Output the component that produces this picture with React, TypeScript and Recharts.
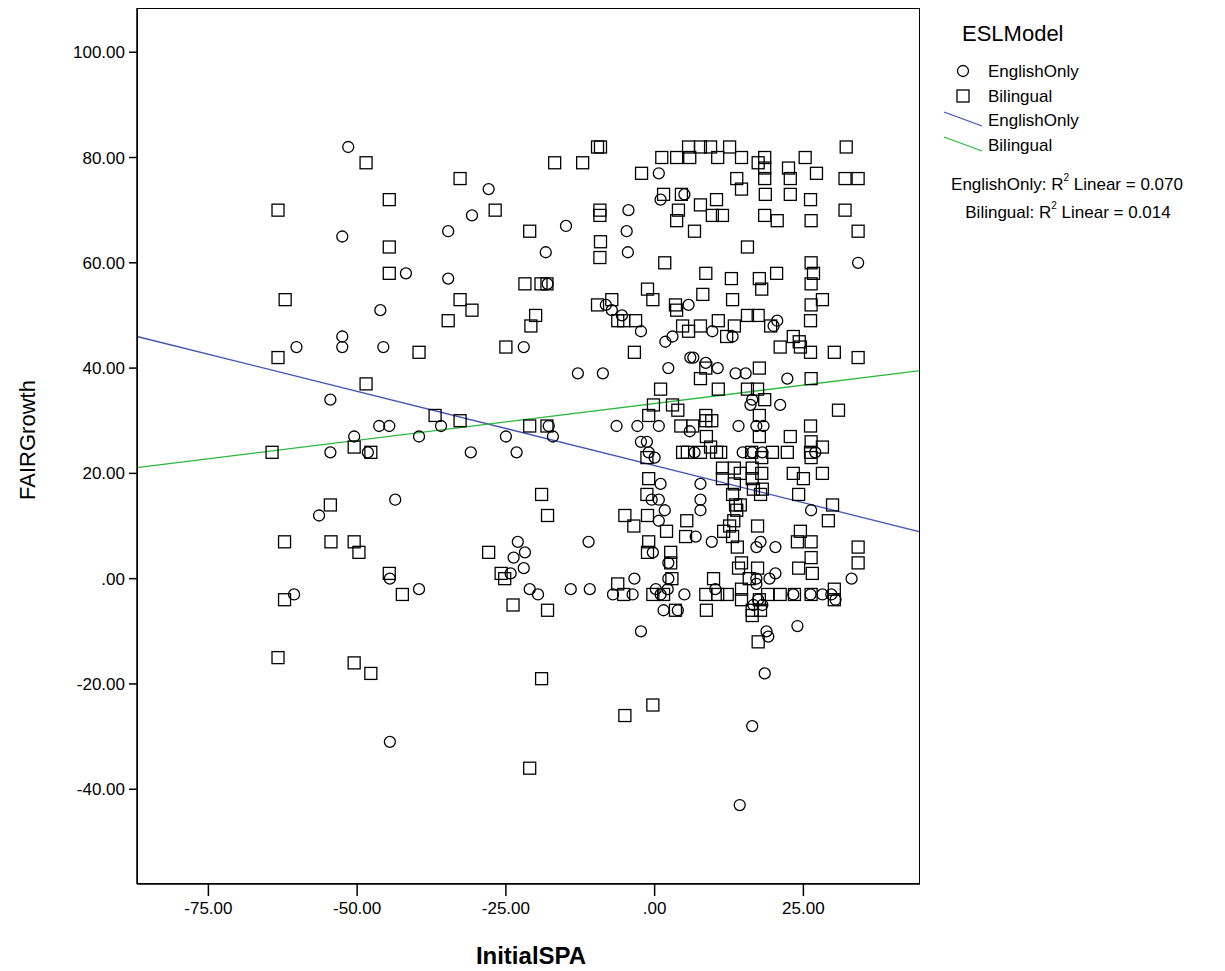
import { ScatterChart, Scatter, XAxis, YAxis, ReferenceLine } from 'recharts';

// [InitialSPA, FAIRGrowth]
const englishOnly: number[][] = [
  [-51.5,82],[-52.5,65],[-52.5,46],[-52.5,44],[-41.8,58],[-46.1,51],[-45.6,44],[-60.2,44],[-54.5,34],[-50.5,27],
  [-54.5,24],[-46.3,29],[-44.6,29],[-48.2,24],[-39.6,27],[-34.7,57],[-34.7,66],[-35.9,29],[-30.7,69],[-27.9,74],
  [-30.9,24],[-22,44],[-23.2,24],[-25,27],[-17.8,29],[-18.3,62],[-18,56],[-17.1,27],[-14.9,67],[-12.9,39],
  [-11.1,7],[-56.4,12],[-43.6,15],[-44.5,0],[-44.5,-31],[-39.6,-2],[-60.6,-3],[-23,7],[-21.8,5],[-23.7,4],
  [-22,2],[-24.2,1],[-21,-2],[-19.6,-3],[-14.1,-2],[-10.9,-2],[-8.7,39],[-4.7,66],[-4.5,62],[-8.2,52],
  [-7.2,51],[-6.4,29],[-5.5,50],[-4.4,70],[-2.3,47],[-2.9,29],[-2.3,26],[-1.3,26],[-1,24],[0,23],
  [0.7,29],[1,18],[0.7,11],[-0.5,15],[-3.4,0],[-3.7,-3],[-2.3,-10],[-7,-3],[1.7,13],[-0.3,5],
  [2.3,0],[2.3,3],[0.7,15],[2.2,-2],[1,-3],[1.5,-6],[3.9,-6],[0.2,-2],[1,72],[0.7,77],
  [1.8,45],[3,46],[5,73],[2.3,40],[5,-3],[5.7,52],[6,42],[6.5,42],[6.7,24],[6.9,8],
  [7.7,18],[7.7,15],[9.6,7],[10.6,40],[10.2,-2],[7.7,13],[8.6,41],[5.9,28],[9.7,47],[13.1,46],
  [13.6,39],[15.3,39],[16.1,33],[14.1,29],[16.4,24],[16.4,34],[17.1,29],[17.8,7],[17.1,0],[16.6,-5],
  [17.1,6],[17.1,-1],[17.4,-4],[18.1,-5],[18.8,-10],[19.1,-11],[18.5,-18],[16.4,-28],[19.3,0],[20.3,1],
  [20.6,49],[20,48],[18.3,29],[21.1,33],[22.3,38],[23.3,-3],[24,-9],[26.2,-3],[28.2,-3],[29.7,-3],
  [30.4,-4],[33.1,0],[34.2,60],[27,24],[26.3,13],[20.3,6],[18.1,24],[14.3,-43],[14.8,24],
];

const bilingual: number[][] = [
  [-63.3,70],[-62.1,53],[-63.3,42],[-64.3,24],[-62.2,7],[-62.2,-4],[-63.3,-15],[-48.5,79],[-44.6,72],[-44.6,63],
  [-44.6,58],[-32.7,76],[-26.8,70],[-21,66],[-32.7,53],[-34.7,49],[-30.7,51],[-39.6,43],[-48.5,37],[-36.9,31],
  [-32.7,30],[-25,44],[-21.8,56],[-20.8,48],[-20,50],[-19.1,56],[-18.1,56],[-21,29],[-18.1,29],[-18,12],
  [-19,16],[-54.5,14],[-54.4,7],[-50.5,7],[-49.7,5],[-47.7,24],[-50.5,25],[-44.6,1],[-42.4,-3],[-50.5,-16],
  [-47.7,-18],[-27.9,5],[-25.8,1],[-25.2,0],[-23.8,-5],[-18,-6],[-19,-19],[-21,-36],[-16.8,79],[-12.1,79],
  [-9.6,82],[-9.1,82],[-9.2,70],[-9.2,69],[-9.1,64],[-9.2,61],[-9.6,52],[-7.2,53],[-5.2,49],[-6.2,49],
  [-3.4,43],[-3.2,49],[-2.2,77],[-1.2,55],[-0.3,53],[3.5,52],[3.7,51],[4,70],[3.7,68],[4.7,48],
  [5.7,47],[4.5,73],[1.5,73],[1.2,80],[3.7,80],[5.9,80],[5.7,82],[7.7,82],[9.4,82],[10.6,80],
  [12.6,82],[14.6,80],[13.8,76],[14.6,74],[7.7,71],[6.7,66],[10.4,72],[9.7,69],[11.4,69],[15.6,63],
  [17.6,57],[20.5,58],[19.5,48],[21.1,44],[23.3,46],[24.3,45],[24.5,44],[26.2,43],[26.2,49],[26.3,60],
  [26.7,58],[26.3,56],[26.3,52],[28.2,53],[30.2,43],[34.2,42],[34.2,66],[32,76],[32,70],[27.2,77],
  [26.3,68],[26.2,72],[25.3,80],[22.8,73],[22.8,76],[20.6,68],[18.5,69],[17.4,79],[18.5,78],[18.5,76],
  [32.2,82],[34.2,76],[22.5,78],[18.6,73],[18.5,80],[13.1,53],[8.1,54],[7.7,48],[10.7,49],[12.1,46],
  [13.4,48],[15.6,50],[17.4,50],[18,55],[12.9,57],[8.6,58],[1.7,60],[8.6,40],[7.7,38],[8.6,31],
  [8.7,27],[10.7,36],[9.6,30],[8.6,30],[6.4,29],[4.7,24],[5.5,24],[7.7,24],[9.4,25],[10.4,24],
  [11.4,21],[15.6,36],[17.3,36],[17.6,40],[18.5,34],[17.6,31],[17.6,27],[16.3,24],[13.4,21],[11.1,24],
  [11.4,19],[13.1,16],[13.4,18],[14.4,14],[14.4,20],[13.6,14],[14.6,3],[13.9,6],[16.4,21],[16.4,19],
  [16.6,17],[17.8,16],[18,20],[18,23],[17.3,10],[18.1,17],[19.8,24],[22.3,24],[22.8,27],[23.3,20],
  [24.2,16],[25,19],[26.2,24],[26.3,26],[26.2,29],[26.3,38],[28.2,25],[28.2,20],[26.3,23],[29.2,11],
  [29.9,14],[30.9,32],[34.2,6],[34.2,3],[30.2,-2],[30.2,-4],[26.3,7],[24.5,9],[26.3,4],[24.2,2],
  [26.3,-3],[24,7],[26.5,1],[23.5,-3],[21.1,-3],[19,-3],[17.6,-4],[17.8,-6],[16.4,-6],[14.6,-2],
  [14.6,-4],[12.2,-3],[10.6,-3],[9.9,0],[8.7,-6],[8.6,-3],[11.6,9],[12.6,10],[13.8,13],[13.3,11],
  [13.1,8],[14.1,2],[15.9,0],[17.3,2],[5.2,8],[5.4,11],[2.7,5],[2.7,3],[2.9,0],[3.5,-6],
  [1.5,-3],[-0.3,-3],[2,9],[-1.2,12],[-1.3,16],[-1.3,23],[-1,31],[-0.2,33],[1,36],[3,33],
  [3.9,32],[4.4,29],[-1,19],[-1,7],[-1.2,5],[-6.2,-1],[-5.2,-3],[-5,12],[-3.5,10],[-5,-26],
  [-0.3,-24],[17.4,-12],[16.4,-7],
];

const xTicks = [-75, -50, -25, 0, 25];
const yTicks = [100, 80, 60, 40, 20, 0, -20, -40];
const xDomain = [-87, 44.6];
const yDomain = [-58, 108.4];
const fitEnglish = [{ x: -87, y: 46 }, { x: 44.6, y: 8.9 }];
const fitBilingual = [{ x: -87, y: 21.1 }, { x: 44.6, y: 39.5 }];

const toPts = (a: number[][]) => a.map(([x, y]) => ({ x, y }));
const fmt = (v: number) => (v === 0 ? '.00' : v.toFixed(2));

const Circle = (p: any) => (
  <circle cx={p.cx} cy={p.cy} r={5.5} fill="none" stroke="#000" strokeWidth={1.3} />
);
const Square = (p: any) => (
  <rect x={p.cx - 6} y={p.cy - 6} width={12} height={12} fill="none" stroke="#000" strokeWidth={1.3} />
);

const font = 'Arial, "Liberation Sans", sans-serif';
const tickStyle = { fontSize: 17, fill: '#000', fontFamily: font };

export default function App() {
  return (
    <div style={{ position: 'absolute', left: 0, top: 0, width: 1225, height: 971, background: '#fff', fontFamily: font }}>
      <ScatterChart width={1225} height={971} margin={{ top: 8, right: 305, bottom: 47, left: 77 }}>
        <XAxis type="number" dataKey="x" domain={xDomain} ticks={xTicks} tickFormatter={fmt}
          allowDataOverflow height={40} tick={tickStyle} stroke="#000" strokeWidth={1.5} tickSize={12} tickMargin={6} />
        <YAxis type="number" dataKey="y" domain={yDomain} ticks={yTicks} tickFormatter={fmt}
          allowDataOverflow width={60} tick={tickStyle} stroke="#000" strokeWidth={1.5} tickSize={8} tickMargin={4} />
        <ReferenceLine segment={fitEnglish} stroke="#3f51b5" strokeWidth={1.3} ifOverflow="visible" />
        <ReferenceLine segment={fitBilingual} stroke="#2db83d" strokeWidth={1.3} ifOverflow="visible" />
        <Scatter data={toPts(englishOnly)} shape={Circle} isAnimationActive={false} />
        <Scatter data={toPts(bilingual)} shape={Square} isAnimationActive={false} />
        <text x={27} y={440} transform="rotate(-90 27 440)" textAnchor="middle" dominantBaseline="central"
          fontSize={22} fontFamily={font}>FAIRGrowth</text>
        <text x={531} y={955} textAnchor="middle" dominantBaseline="central" fontSize={24}
          fontWeight="bold" fontFamily={font}>InitialSPA</text>
      </ScatterChart>
      <div style={{ position: 'absolute', left: 137, top: 8, width: 783, height: 876, border: '1.5px solid #000', boxSizing: 'border-box', pointerEvents: 'none' }} />
      <svg width={305} height={230} style={{ position: 'absolute', left: 920, top: 0 }} fontFamily={font}>
        <text x={42} y={33} fontSize={22} dominantBaseline="central">ESLModel</text>
        <circle cx={43} cy={71} r={5.5} fill="none" stroke="#000" strokeWidth={1.3} />
        <text x={68} y={71} fontSize={17} dominantBaseline="central">EnglishOnly</text>
        <rect x={37} y={90} width={12} height={12} fill="none" stroke="#000" strokeWidth={1.3} />
        <text x={68} y={96} fontSize={17} dominantBaseline="central">Bilingual</text>
        <line x1={24} y1={112} x2={62} y2={126} stroke="#3f51b5" strokeWidth={1.3} />
        <text x={68} y={120} fontSize={17} dominantBaseline="central">EnglishOnly</text>
        <line x1={24} y1={137} x2={62} y2={151} stroke="#2db83d" strokeWidth={1.3} />
        <text x={68} y={145} fontSize={17} dominantBaseline="central">Bilingual</text>
        <text x={147} y={184} fontSize={17} textAnchor="middle" dominantBaseline="central">
          EnglishOnly: R<tspan fontSize={10} dy={-7}>2</tspan><tspan dy={7}>{'  Linear = 0.070'}</tspan>
        </text>
        <text x={148} y={212} fontSize={17} textAnchor="middle" dominantBaseline="central">
          Bilingual: R<tspan fontSize={10} dy={-7}>2</tspan><tspan dy={7}>{'  Linear = 0.014'}</tspan>
        </text>
      </svg>
    </div>
  );
}
